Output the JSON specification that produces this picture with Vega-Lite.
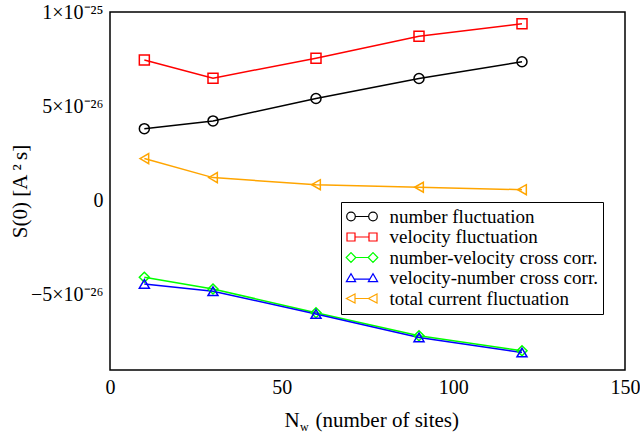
{
  "$schema": "https://vega.github.io/schema/vega-lite/v6.json",
  "width": 515,
  "height": 358,
  "autosize": "none",
  "padding": {"left": 110, "top": 12, "right": 15, "bottom": 68},
  "config": {
    "view": {"stroke": "black", "strokeWidth": 1.5},
    "font": "Liberation Serif",
    "style": {
      "guide-label": {"font": "Liberation Serif", "fill": "black"},
      "guide-title": {"font": "Liberation Serif", "fill": "black"}
    },
    "axis": {
      "domain": false,
      "grid": false,
      "tickColor": "black",
      "tickWidth": 1,
      "labelColor": "black",
      "titleColor": "black",
      "labelFont": "Liberation Serif",
      "titleFont": "Liberation Serif",
      "labelFontSize": 20,
      "titleFontSize": 21,
      "titleFontWeight": "normal"
    },
    "legend": {"labelFont": "Liberation Serif"}
  },
  "data": {
    "values": [
      {"series": "number fluctuation", "N": 10, "S": 3.81e-26},
      {"series": "number fluctuation", "N": 30, "S": 4.22e-26},
      {"series": "number fluctuation", "N": 60, "S": 5.41e-26},
      {"series": "number fluctuation", "N": 90, "S": 6.47e-26},
      {"series": "number fluctuation", "N": 120, "S": 7.36e-26},
      {"series": "velocity fluctuation", "N": 10, "S": 7.45e-26},
      {"series": "velocity fluctuation", "N": 30, "S": 6.49e-26},
      {"series": "velocity fluctuation", "N": 60, "S": 7.55e-26},
      {"series": "velocity fluctuation", "N": 90, "S": 8.71e-26},
      {"series": "velocity fluctuation", "N": 120, "S": 9.38e-26},
      {"series": "number-velocity cross corr.", "N": 10, "S": -4.08e-26},
      {"series": "number-velocity cross corr.", "N": 30, "S": -4.7e-26},
      {"series": "number-velocity cross corr.", "N": 60, "S": -5.96e-26},
      {"series": "number-velocity cross corr.", "N": 90, "S": -7.18e-26},
      {"series": "number-velocity cross corr.", "N": 120, "S": -7.98e-26},
      {"series": "velocity-number cross corr.", "N": 10, "S": -4.43e-26},
      {"series": "velocity-number cross corr.", "N": 30, "S": -4.82e-26},
      {"series": "velocity-number cross corr.", "N": 60, "S": -6.03e-26},
      {"series": "velocity-number cross corr.", "N": 90, "S": -7.27e-26},
      {"series": "velocity-number cross corr.", "N": 120, "S": -8.07e-26},
      {"series": "total current fluctuation", "N": 10, "S": 2.22e-26},
      {"series": "total current fluctuation", "N": 30, "S": 1.21e-26},
      {"series": "total current fluctuation", "N": 60, "S": 0.835e-26},
      {"series": "total current fluctuation", "N": 90, "S": 0.7e-26},
      {"series": "total current fluctuation", "N": 120, "S": 0.57e-26}
    ]
  },
  "layer": [
    {
      "mark": {"type": "line", "strokeWidth": 1.5},
      "encoding": {
        "x": {
          "field": "N", "type": "quantitative",
          "scale": {"domain": [0, 150], "nice": false, "zero": false},
          "axis": {
            "orient": "bottom",
            "values": [0, 25, 50, 75, 100, 125, 150],
            "labelExpr": "datum.value % 50 == 0 ? datum.label : ''",
            "labelFont": "Liberation Serif",
            "labelFontSize": 20,
            "tickSize": 0,
            "labelPadding": 7,
            "labelFlush": false,
            "labelOverlap": false,
            "title": "(number of sites)",
            "titleFont": "Liberation Serif",
            "titleFontSize": 21,
            "titleX": 205,
            "titleY": 56,
            "titleAlign": "left",
            "titleBaseline": "alphabetic",
            "encode": {"ticks": {"update": {"y2": {"signal": "datum.value % 50 == 0 ? -10 : -5"}}}}
          }
        },
        "y": {
          "field": "S", "type": "quantitative",
          "scale": {"domain": [-9e-26, 1e-25], "nice": false, "zero": false},
          "axis": {
            "orient": "left",
            "values": [-7.5e-26, -5e-26, -2.5e-26, 0, 2.5e-26, 5e-26, 7.5e-26, 1e-25],
            "labelExpr": "round(datum.value*1e27) == 100 ? '1×10⁻²⁵' : round(datum.value*1e27) == 50 ? '5×10⁻²⁶' : round(datum.value*1e27) == 0 ? '0' : round(datum.value*1e27) == -50 ? '−5×10⁻²⁶' : ''",
            "labelFont": "Liberation Serif",
            "labelFontSize": 20,
            "tickSize": 0,
            "labelPadding": 7,
            "labelOverlap": false,
            "title": "S(0) [A\u2009²\u2009s]",
            "titleFont": "Liberation Serif",
            "titleFontSize": 21,
            "titleX": -80,
            "titleY": 179,
            "encode": {"ticks": {"update": {"x2": {"signal": "abs(round(datum.value*1e27)) % 50 == 0 ? 10 : 5"}}}}
          }
        },
        "color": {
          "field": "series", "type": "nominal",
          "scale": {
            "domain": ["number fluctuation", "velocity fluctuation", "number-velocity cross corr.", "velocity-number cross corr.", "total current fluctuation"],
            "range": ["#000000", "#ff0000", "#00ff00", "#0000ff", "#ffa500"]
          },
          "legend": {
            "title": null,
            "orient": "none",
            "legendX": 231,
            "legendY": 190,
            "strokeColor": "black",
            "fillColor": "white",
            "padding": 5,
            "labelFont": "Liberation Serif",
            "labelFontSize": 19,
            "labelColor": "black",
            "labelLimit": 400,
            "symbolSize": 64,
            "symbolStrokeWidth": 1.2,
            "symbolOffset": 6.5,
            "labelOffset": 18,
            "rowPadding": 0.5,
            "encode": {
              "symbols": {
                "update": {
                  "shape": {"signal": "datum.value == 'number fluctuation' ? 'M-3.825,0A1.075,1.075,0,1,0,-1.675,0A1.075,1.075,0,1,0,-3.825,0ZM1.675,0A1.075,1.075,0,1,0,3.825,0A1.075,1.075,0,1,0,1.675,0ZM-1.675,0L1.675,0' : datum.value == 'velocity fluctuation' ? 'M-3.75,-1L-1.75,-1L-1.75,1L-3.75,1ZM1.75,-1L3.75,-1L3.75,1L1.75,1ZM-1.75,0L1.75,0' : datum.value == 'number-velocity cross corr.' ? 'M-3.95,0L-2.75,-1.2L-1.55,0L-2.75,1.2ZM1.55,0L2.75,-1.2L3.95,0L2.75,1.2ZM-1.55,0L1.55,0' : datum.value == 'velocity-number cross corr.' ? 'M-3.9,0.9L-2.75,-1.1L-1.6,0.9ZM1.6,0.9L2.75,-1.1L3.9,0.9ZM-1.945,0.3L1.945,0.3' : 'M-3.9,0L-1.75,-1.15L-1.75,1.15ZM1.6,0L3.75,-1.15L3.75,1.15ZM-1.75,0L1.6,0'"},
                  "fill": {"value": "transparent"},
                  "size": {"value": 64},
                  "strokeWidth": {"value": 1.2}
                }
              }
            }
          }
        }
      }
    },
    {
      "mark": {"type": "point", "filled": false, "size": 100, "strokeWidth": 1.5, "opacity": 1},
      "encoding": {
        "x": {
          "field": "N", "type": "quantitative",
          "axis": {
            "orient": "top",
            "values": [0, 25, 50, 75, 100, 125, 150],
            "labels": false,
            "title": null,
            "tickSize": 0,
            "encode": {"ticks": {"update": {"y2": {"signal": "datum.value % 50 == 0 ? 10 : 5"}}}}
          }
        },
        "y": {
          "field": "S", "type": "quantitative",
          "axis": {
            "orient": "right",
            "values": [-7.5e-26, -5e-26, -2.5e-26, 0, 2.5e-26, 5e-26, 7.5e-26, 1e-25],
            "labels": false,
            "title": null,
            "tickSize": 0,
            "encode": {"ticks": {"update": {"x2": {"signal": "abs(round(datum.value*1e27)) % 50 == 0 ? -10 : -5"}}}}
          }
        },
        "stroke": {
          "field": "series", "type": "nominal",
          "scale": {
            "domain": ["number fluctuation", "velocity fluctuation", "number-velocity cross corr.", "velocity-number cross corr.", "total current fluctuation", "_pts"],
            "range": ["#000000", "#ff0000", "#00ff00", "#0000ff", "#ffa500", "#000000"]
          },
          "legend": null
        },
        "shape": {
          "field": "series", "type": "nominal",
          "scale": {
            "domain": ["number fluctuation", "velocity fluctuation", "number-velocity cross corr.", "velocity-number cross corr.", "total current fluctuation", "_shp"],
            "range": ["circle", "square", "diamond", "triangle-up", "triangle-left", "circle"]
          },
          "legend": null
        }
      }
    },
    {
      "mark": {"type": "point", "opacity": 0, "size": 1},
      "encoding": {
        "x": {
          "field": "N", "type": "quantitative",
          "axis": {
            "orient": "bottom",
            "labels": false,
            "ticks": false,
            "domain": false,
            "title": "w",
            "titleFont": "Liberation Serif",
            "titleFontSize": 12,
            "titleX": 189.5,
            "titleY": 60,
            "titleAlign": "left",
            "titleBaseline": "alphabetic"
          }
        },
        "y": {"field": "S", "type": "quantitative", "axis": null}
      }
    },
    {
      "mark": {"type": "point", "opacity": 0, "size": 1},
      "encoding": {
        "x": {
          "field": "N", "type": "quantitative",
          "axis": {
            "orient": "bottom",
            "labels": false,
            "ticks": false,
            "domain": false,
            "title": "N",
            "titleFont": "Liberation Serif",
            "titleFontSize": 21,
            "titleX": 174,
            "titleY": 56,
            "titleAlign": "left",
            "titleBaseline": "alphabetic"
          }
        },
        "y": {"field": "S", "type": "quantitative", "axis": null}
      }
    }
  ],
  "resolve": {"axis": {"x": "independent", "y": "independent"}}
}
